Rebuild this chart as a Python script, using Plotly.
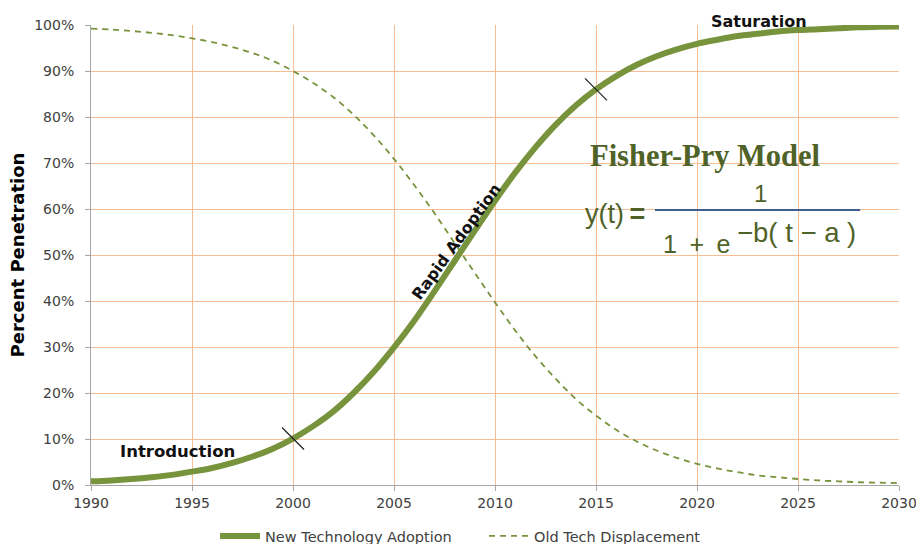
import plotly.graph_objects as go

years = list(range(1990, 2031))
new_tech = [0.8, 1.0, 1.3, 1.7, 2.2, 2.9, 3.7, 4.8, 6.2, 7.9,
            10.1, 12.8, 16.0, 20.0, 24.6, 29.9, 35.7, 42.1, 48.7, 55.3,
            61.8, 67.9, 73.4, 78.3, 82.5, 86.0, 88.9, 91.3, 93.2, 94.7,
            95.9, 96.8, 97.6, 98.1, 98.6, 98.9, 99.1, 99.3, 99.5, 99.6, 99.7]
old_tech = [99.2, 99.0, 98.7, 98.3, 97.8, 97.1, 96.3, 95.2, 93.9, 92.2,
            90.0, 87.4, 84.3, 80.5, 76.0, 70.9, 65.2, 59.1, 52.6, 46.1,
            39.7, 33.6, 28.0, 23.1, 18.7, 15.1, 12.0, 9.5, 7.5, 5.9,
            4.6, 3.6, 2.8, 2.1, 1.7, 1.3, 1.0, 0.8, 0.6, 0.5, 0.4]
phase_years = [2000, 2015]
x_ticks = [1990, 1995, 2000, 2005, 2010, 2015, 2020, 2025, 2030]
y_ticks = [0, 10, 20, 30, 40, 50, 60, 70, 80, 90, 100]
y_tick_labels = [f"{v}%" for v in y_ticks]

GREEN = "#77933C"
DARK_GREEN = "#4F6228"
GRID = "#F7BE94"
TXT = "#404040"

fig = go.Figure()
fig.add_trace(go.Scatter(
    x=years, y=new_tech, mode="lines", name="New Technology Adoption",
    line=dict(color=GREEN, width=6, shape="spline"),
))
fig.add_trace(go.Scatter(
    x=years, y=old_tech, mode="lines", name="Old Tech Displacement",
    line=dict(color=GREEN, width=1.8, dash="6px,5px", shape="spline"),
))
phase_vals = [new_tech[years.index(y)] for y in phase_years]
fig.add_trace(go.Scatter(
    x=phase_years, y=phase_vals, mode="markers", showlegend=False,
    marker=dict(symbol="line-nw", size=22, line=dict(color="#222222", width=1.2)),
    hoverinfo="skip",
))

fig.update_layout(
    width=916, height=544,
    margin=dict(l=91, r=17, t=25, b=59, autoexpand=False),
    paper_bgcolor="white", plot_bgcolor="white",
    font=dict(family="DejaVu Sans", size=14, color=TXT),
    showlegend=True,
    legend=dict(orientation="h", x=0.1535, xanchor="left", y=-0.076, yanchor="top",
                font=dict(family="DejaVu Sans", size=14.5, color=TXT),
                itemwidth=40, entrywidth=214, tracegroupgap=0),
    xaxis=dict(range=[1990, 2030], tickvals=x_ticks, showgrid=True, gridcolor=GRID,
               gridwidth=1, showline=True, linecolor="#A6A6A6", linewidth=1,
               ticks="outside", ticklen=5, tickcolor="#A6A6A6",
               ticklabeloverflow="allow",
               zeroline=False, tickfont=dict(size=14, color=TXT)),
    yaxis=dict(range=[0, 100], tickvals=y_ticks, ticktext=y_tick_labels,
               showgrid=True, gridcolor=GRID, gridwidth=1, showline=True,
               linecolor="#A6A6A6", linewidth=1, ticks="outside", ticklen=5,
               tickcolor="#A6A6A6", zeroline=False, ticklabelstandoff=8,
               ticklabeloverflow="allow",
               tickfont=dict(size=14, color=TXT),
               title=dict(text="<b>Percent Penetration</b>", standoff=4,
                          font=dict(size=18, color="#000000"))),
)

annotations = [
    dict(x=1994.3, y=7.2, xref="x", yref="y", text="<b>Introduction</b>",
         showarrow=False, font=dict(size=16.5, color="#111111")),
    dict(x=2023.05, y=1.0, xref="x", yref="paper", yanchor="middle", yshift=4,
         text="<b>Saturation</b>",
         showarrow=False, font=dict(size=16, color="#111111")),
    dict(x=2008.1, y=52.9, xref="x", yref="y", text="<b>Rapid Adoption</b>",
         showarrow=False, textangle=-54, font=dict(size=16, color="#111111")),
    dict(x=0.760, y=0.715, xref="paper", yref="paper", xanchor="center", yanchor="middle",
         text="<b>Fisher-Pry Model</b>",
         showarrow=False, font=dict(family="Liberation Serif", size=30.5, color=DARK_GREEN)),
    dict(x=0.609, y=0.589, xref="paper", yref="paper", xanchor="left", yanchor="middle",
         text="y(t)\u2009<b>=</b>",
         showarrow=False, font=dict(family="Liberation Sans", size=27, color=DARK_GREEN)),
    dict(x=0.829, y=0.633, xref="paper", yref="paper", xanchor="center", yanchor="middle",
         text="1",
         showarrow=False, font=dict(family="Liberation Sans", size=24, color=DARK_GREEN)),
    dict(x=0.7054, y=0.525, xref="paper", yref="paper", xanchor="left", yanchor="middle",
         text="1\u2002+\u2002e",
         showarrow=False, font=dict(family="Liberation Sans", size=25, color=DARK_GREEN)),
    dict(x=0.7975, y=0.548, xref="paper", yref="paper", xanchor="left", yanchor="middle",
         text="\u2212b( t \u2212 a )",
         showarrow=False, font=dict(family="Liberation Sans", size=27.5, color=DARK_GREEN)),
]
fig.update_layout(annotations=annotations)
fig.add_shape(type="line", xref="paper", yref="paper", x0=0.698, x1=0.952,
              y0=0.598, y1=0.598, line=dict(color="#3F5F8F", width=2))

fig.write_html(
    "out.html",
    config={"displayModeBar": False},
    post_script="document.body.style.margin='0';"
                "document.documentElement.style.overflow='hidden';",
)
